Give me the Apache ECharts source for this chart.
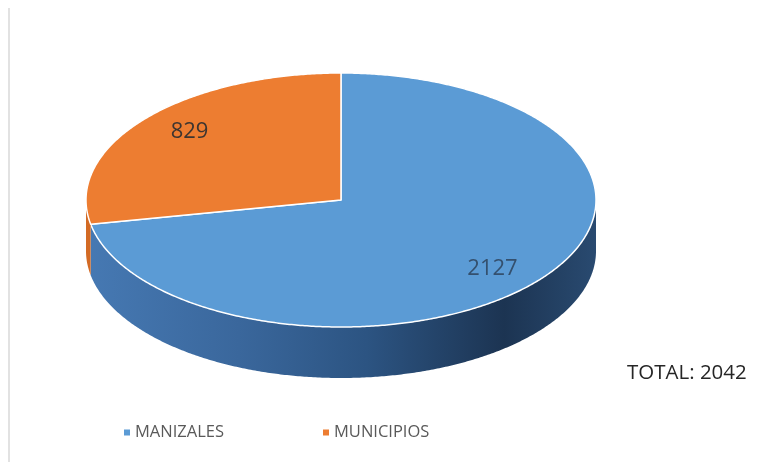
<!DOCTYPE html>
<html>
<head>
<meta charset="utf-8">
<script src="https://cdn.jsdelivr.net/npm/echarts@6/dist/echarts.min.js"></script>
<style>
  html, body { margin: 0; padding: 0; background: #ffffff; }
  #chart { width: 765px; height: 462px; }
</style>
</head>
<body>
<div id="chart"></div>
<script>
// Data
const categories = ['MANIZALES', 'MUNICIPIOS'];
const values = [2127, 829];
const totalText = 'TOTAL: 2042';

// Styles
const topColors = ['#5b9bd5', '#ed7d31'];
const labelColors = ['#34506e', '#3d3530'];

// Tilted-disc geometry (pixels)
const disc = { cx: 341, cy: 200, rx: 255, ry: 127, depth: 51 };

const sum = values.reduce((a, b) => a + b, 0);

// angle measured clockwise from 12 o'clock
function pt(theta, dz) {
  return [disc.cx + disc.rx * Math.sin(theta), disc.cy - disc.ry * Math.cos(theta) + dz];
}
function arc(a, b, dz) {
  const pts = [];
  const n = Math.max(2, Math.ceil(Math.abs(b - a) / (Math.PI / 360)));
  for (let k = 0; k <= n; k++) pts.push(pt(a + (b - a) * k / n, dz));
  return pts;
}

const sideGradient = {
  type: 'linear', global: true,
  x: disc.cx - disc.rx, y: 0, x2: disc.cx + disc.rx, y2: 0,
  colorStops: [
    { offset: 0, color: '#4679b3' },
    { offset: 0.3, color: '#3a679c' },
    { offset: 0.55, color: '#2c5482' },
    { offset: 0.82, color: '#1c3452' },
    { offset: 1, color: '#294a70' }
  ]
};
const sideColors = [sideGradient, '#d36a24'];

function makeSlice(idx) {
  return function (params, api) {
    const v = api.value(0);
    let before = 0;
    for (let i = 0; i < idx; i++) before += values[i];
    const a0 = 2 * Math.PI * before / sum;
    const a1 = 2 * Math.PI * (before + v) / sum;
    const children = [];

    // front wall: the part of the slice facing the viewer
    const s0 = Math.max(a0, Math.PI / 2);
    const s1 = Math.min(a1, 3 * Math.PI / 2);
    if (s1 > s0) {
      const wall = arc(s0, s1, 0).concat(arc(s1, s0, disc.depth));
      children.push({
        type: 'polygon',
        shape: { points: wall },
        style: { fill: sideColors[idx], stroke: null }
      });
    }

    // top face
    const top = [[disc.cx, disc.cy]].concat(arc(a0, a1, 0));
    children.push({
      type: 'polygon',
      shape: { points: top },
      style: { fill: topColors[idx], stroke: '#ffffff', lineWidth: 1.5, lineJoin: 'round' }
    });

    // value label
    const mid = (a0 + a1) / 2;
    const lx = disc.cx + disc.rx * 0.77 * Math.sin(mid);
    const ly = disc.cy - disc.ry * 0.85 * Math.cos(mid);
    children.push({
      type: 'text',
      style: {
        text: String(v), x: lx, y: ly,
        align: 'center', verticalAlign: 'middle',
        textAlign: 'center', textVerticalAlign: 'middle',
        fill: labelColors[idx],
        fontSize: 22, fontFamily: 'Open Sans'
      }
    });
    return { type: 'group', children: children };
  };
}

const chart = echarts.init(document.getElementById('chart'), null, { renderer: 'canvas' });
chart.setOption({
  backgroundColor: '#ffffff',
  animation: false,
  color: topColors,
  legend: {
    data: categories,
    left: 124, top: 424,
    padding: 0,
    icon: 'rect', itemWidth: 6, itemHeight: 6, itemGap: 99,
    textStyle: { color: '#595959', fontSize: 16.5, fontFamily: 'Open Sans' }
  },
  graphic: [
    {
      type: 'line', silent: true,
      shape: { x1: 9, y1: 8, x2: 9, y2: 462 },
      style: { stroke: '#d9d9d9', lineWidth: 1.5 }
    },
    {
      type: 'text', left: 627, top: 363,
      style: { text: totalText, fill: '#262626', fontSize: 20.5, fontFamily: 'Open Sans' }
    }
  ],
  series: categories.map((name, i) => ({
    type: 'custom',
    name: name,
    coordinateSystem: 'none',
    renderItem: makeSlice(i),
    data: [[values[i]]]
  }))
});
</script>
</body>
</html>
